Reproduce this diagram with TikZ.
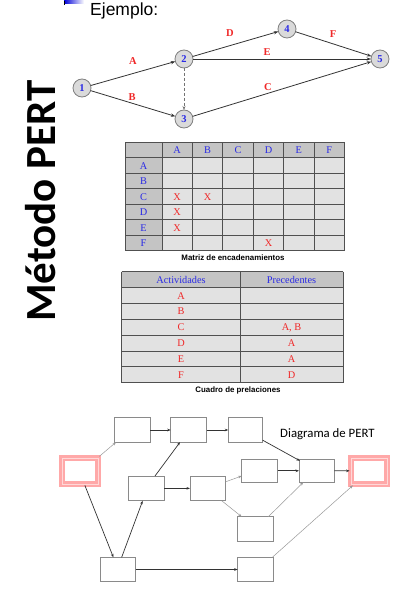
\documentclass[tikz,border=0pt]{standalone}
\usepackage{fontspec}
\setmainfont{Liberation Serif}
\newfontfamily\arialf{Liberation Sans}
\newfontfamily\calif{Carlito}
\usetikzlibrary{arrows.meta,calc}
\definecolor{hdr}{HTML}{C4C4C4}
\definecolor{cellc}{HTML}{E2E2E2}
\definecolor{gridc}{HTML}{505050}
\definecolor{bluet}{HTML}{2A2AE6}
\definecolor{redt}{HTML}{F02828}
\definecolor{circf}{HTML}{DADADA}
\definecolor{circd}{HTML}{808080}
\definecolor{boxd}{HTML}{8A8A8A}
\definecolor{pinkd}{HTML}{FFA8A8}
\definecolor{pinkl}{HTML}{FFD8D8}
\begin{document}
\begin{tikzpicture}[x=1pt,y=-1pt,
  ev/.style={circle,draw=circd,fill=circf,line width=0.8,minimum size=18pt,inner sep=0,outer sep=0,
     text=bluet,font=\bfseries\fontsize{10.5}{11}\selectfont},
  act/.style={text=redt,font=\bfseries\fontsize{10.5}{11}\selectfont,inner sep=0},
  garr/.style={draw=black!80,line width=0.8,-{Stealth[length=4.5pt,width=3.2pt]}},
  hd/.style={text=bluet,font=\fontsize{10.3}{11}\selectfont,inner sep=0},
  xx/.style={text=redt,font=\fontsize{10.3}{11}\selectfont,inner sep=0},
  captxt/.style={font=\arialf\bfseries\fontsize{7.9}{9}\selectfont,inner sep=0,anchor=base},
  bx/.style={draw=boxd,fill=white,line width=0.8,minimum width=36pt,minimum height=24.4pt,inner sep=0,outer sep=0},
  sx/.style={draw=pinkd,line width=2.6,double=pinkl,double distance=0.6pt,fill=white,minimum width=36pt,minimum height=26pt,inner sep=0,outer sep=1.5pt},
  dk/.style={draw=black!80,line width=0.7,-{Stealth[length=3.5pt,width=2.6pt]}},
  lt/.style={draw=black!40,line width=0.5,-{Stealth[length=3.5pt,width=2.6pt]}}
]
\useasboundingbox (0,0) rectangle (408,599);
\fill[white] (0,0) rectangle (408,599);

% bullet and title
\shade[left color=blue!85!black,right color=white] (64,0.6) rectangle (84,3.4);
\fill[black] (63.5,0.6) rectangle (65,5.2);
\node[anchor=base west,inner sep=0,font=\arialf\fontsize{17.5}{18}\selectfont] (ej) at (90,16) {Ejemplo:};

% vertical title
\node[rotate=90,anchor=base west,inner sep=0,font=\calif\bfseries\fontsize{43}{43}\selectfont] (mp) at (55,322) {Método PERT};

% PERT graph (top)
\node[ev] (n1) at (82,88) {1};
\node[ev] (n2) at (184,59) {2};
\node[ev] (n3) at (184,119) {3};
\node[ev] (n4) at (287,29) {4};
\node[ev] (n5) at (380,59) {5};
\draw[garr] (n1) -- (n2);
\draw[garr] (n1) -- (n3);
\draw[garr] (n2) -- (n4);
\draw[garr] (n2) -- (n5);
\draw[garr] (n4) -- (n5);
\draw[garr] (n3) -- (n5);
\draw[draw=black!55,line width=0.7,densely dashed,-{Stealth[length=4pt,width=3pt]}] (n2) -- (n3);
\node[act] (la) at (133,61) {A};
\node[act] (lb) at (132,97) {B};
\node[act] (ld) at (230,33) {D};
\node[act] (le) at (267,52) {E};
\node[act] (lf) at (333,34) {F};
\node[act] (lc) at (268,87) {C};

% Matriz de encadenamientos
\fill[cellc] (125,142.3) rectangle (344.5,250.7);
\fill[hdr] (125,142.3) rectangle (344.5,157.8);
\fill[hdr] (125,142.3) rectangle (162,250.7);
\foreach \x in {125,162,192.42,222.84,253.26,283.68,314.1,344.5}
  \draw[gridc,line width=0.9] (\x,142.3) -- (\x,250.7);
\foreach \i in {0,...,7}
  \draw[gridc,line width=0.9] (125,142.3+15.486*\i) -- (344.5,142.3+15.486*\i);
\foreach \l [count=\i] in {A,B,C,D,E,F}{
  \node[hd] (mc\l) at (162+30.42*\i-15.21,150.3) {\l};
  \node[hd] (mr\l) at (143.5,150.3+15.486*\i) {\l};
}
\node[xx] (x1) at (177.2,196.8) {X};
\node[xx] (x2) at (207.6,196.8) {X};
\node[xx] (x3) at (177.2,212.3) {X};
\node[xx] (x4) at (177.2,227.8) {X};
\node[xx] (x5) at (268.5,243.3) {X};
\node[captxt] (cap1) at (233,260) {Matriz de encadenamientos};

% Cuadro de prelaciones
\fill[cellc] (121.7,271.7) rectangle (343,382.7);
\fill[hdr] (121.7,271.7) rectangle (343,287.56);
\foreach \x in {121.7,240,343}
  \draw[gridc,line width=0.9] (\x,271.7) -- (\x,382.7);
\foreach \i in {0,...,7}
  \draw[gridc,line width=0.9] (121.7,271.7+15.857*\i) -- (343,271.7+15.857*\i);
\node[hd] (ha) at (181,279.9) {Actividades};
\node[hd] (hp) at (291.5,279.9) {Precedentes};
\foreach \a/\p [count=\i] in {A/,B/,C/{A, B},D/A,E/A,F/D}{
  \node[xx] (pa\i) at (181,279.9+15.857*\i) {\a};
  \node[xx] (pp\i) at (291.5,279.9+15.857*\i) {\p};
}
\node[captxt] (cap2) at (238,392.5) {Cuadro de prelaciones};

% Diagrama de PERT (bottom)
\node[anchor=base west,inner sep=0,font=\calif\fontsize{12.8}{13}\selectfont] (dt) at (280,437.3) {Diagrama de PERT};
\node[sx] (st) at (79.85,470.85) {};
\node[sx] (en) at (369.15,470.85) {};
\node[bx] (b1) at (132,430) {};
\node[bx] (b2) at (188.7,430) {};
\node[bx,minimum width=34.4pt] (b3) at (245.5,430) {};
\node[bx,minimum height=24.7pt] (b4) at (146.3,488.35) {};
\node[bx,minimum width=35.7pt,minimum height=24.7pt] (b5) at (207.85,488.35) {};
\node[bx,minimum height=23pt] (b6) at (259.7,470.8) {};
\node[bx,minimum width=35.3pt,minimum height=23pt] (b7) at (316.65,470.8) {};
\node[bx,minimum width=35.6pt,minimum height=24.3pt] (b8) at (255.5,528.85) {};
\node[bx,minimum width=35.7pt] (b9) at (117.85,569.5) {};
\node[bx,minimum width=35.6pt] (b10) at (255.5,569.5) {};

\draw[lt] (st.north east) -- ($(b1.south west)+(2,0)$);
\draw[dk] (b1) -- (b2);
\draw[dk] (b2) -- (b3);
\draw[dk] ($(b3.south east)+(0,-2)$) -- ($(b7.north west)+(1,1.5)$);
\draw[dk] (b6) -- (b7);
\draw[dk] (b7) -- (en);
\draw[dk] ($(st.south)+(5,0)$) -- ($(b9.north)+(-4.5,0)$);
\draw[dk] ($(b9.north)+(3.8,0)$) -- ($(b4.south)+(-3.6,0)$);
\draw[dk] ($(b4.north)+(8.7,0)$) -- ($(b2.south)+(-8.7,0)$);
\draw[dk] (b4) -- (b5);
\draw[lt] ($(b5.east)+(0,-6.6)$) -- ($(b6.west)+(0,5.2)$);
\draw[lt] ($(b5.south)+(13.85,0)$) -- ($(b8.north west)+(4,0)$);
\draw[lt] ($(b8.north)+(12.8,0)$) -- ($(b7.south)+(-13.35,0)$);
\draw[dk] (b9) -- (b10);
\draw[lt] ($(b10.north east)+(-1,0)$) -- ($(en.south west)+(3.3,0)$);
\end{tikzpicture}
\end{document}
